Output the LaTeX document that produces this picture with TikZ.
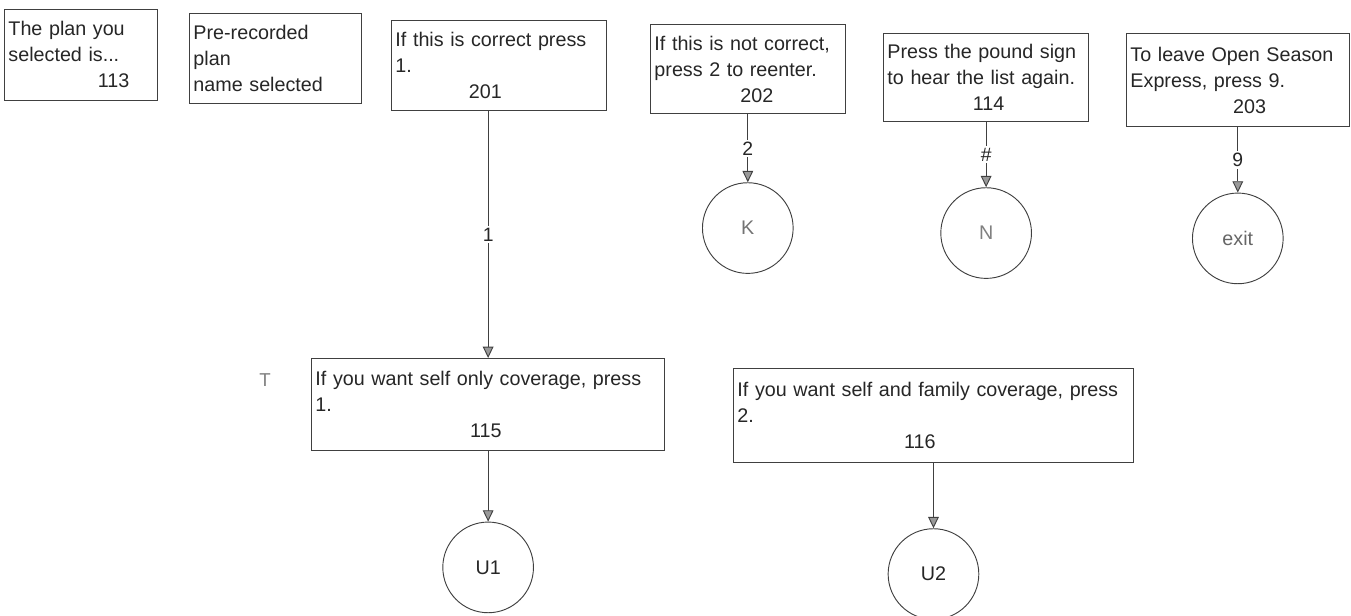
\documentclass[tikz,border=0pt]{standalone}
\usepackage{fontspec}
\setmainfont{Liberation Sans}
\usetikzlibrary{positioning,arrows.meta}

\newcommand{\boxnum}[2]{\hspace*{#1}#2}

\begin{document}
\begin{tikzpicture}[x=0.75pt,y=-0.75pt,
  msg/.style={draw=black!75,line width=0.7pt,anchor=north west,align=left,
    inner xsep=3pt,inner ysep=2pt,text=black!85,font=\fontsize{14.8}{19.5}\selectfont},
  stop/.style={draw=black!75,line width=0.7pt,circle,minimum size=68pt,
    inner sep=0pt,font=\fontsize{14.8}{18}\selectfont},
  key/.style={fill=white,inner sep=1.5pt,text=black!85,font=\fontsize{14.5}{16}\selectfont},
  arr/.style={draw=black!75,line width=0.7pt,
    -{Triangle[width=8pt,length=8.5pt,fill=black!40]}}]
  \useasboundingbox (0,0) rectangle (1351,616);

  \node[msg,text width=109pt,minimum height=68pt] (b113) at (4,9)
    {The plan you\\selected is...\\\boxnum{67pt}{113}};
  \node[msg,text width=123pt,minimum height=67.5pt] (bpre) at (189,13)
    {Pre-recorded\\plan\\name selected};
  \node[msg,text width=155pt,minimum height=67.5pt] (b201) at (391,20)
    {If this is correct press\\1.\\\boxnum{55pt}{201}};
  \node[msg,text width=140pt,minimum height=67pt] (b202) at (650,24)
    {If this is not correct,\\press 2 to reenter.\\\boxnum{64.5pt}{202}};
  \node[msg,text width=148pt,minimum height=66pt] (b114) at (883,33)
    {Press the pound sign\\to hear the list again.\\\boxnum{64pt}{114}};
  \node[msg,text width=161pt,minimum height=70pt] (b203) at (1126,33)
    {To leave Open Season\\Express, press 9.\\\boxnum{77pt}{203}};

  \node[stop,text=black!55,below=51pt of b202] (K) {K};
  \node[stop,text=black!50,below=49pt of b114] (N) {N};
  \node[stop,text=black!60,below=49pt of b203] (exit) {exit};

  \node[msg,text width=259pt,minimum height=69pt] (b115) at (311,358)
    {If you want self only coverage, press\\1.\\\boxnum{116pt}{115}};
  \node[msg,text width=294pt,minimum height=70.5pt] (b116) at (733,368)
    {If you want self and family coverage, press\\2.\\\boxnum{125pt}{116}};
  \node[text=black!50,font=\fontsize{14}{16}\selectfont] (t) at (265,380) {T};

  \node[stop,text=black!85,below=53pt of b115] (U1) {U1};
  \node[stop,text=black!85,below=49pt of b116] (U2) {U2};

  \draw[arr] (b115.north |- b201.south) -- node[key] {1} (b115.north);
  \draw[arr] (b202.south) -- node[key] {2} (K);
  \draw[arr] (b114.south) -- node[key] {\#} (N);
  \draw[arr] (b203.south) -- node[key] {9} (exit);
  \draw[arr] (b115.south) -- (U1);
  \draw[arr] (b116.south) -- (U2);
\end{tikzpicture}
\end{document}
